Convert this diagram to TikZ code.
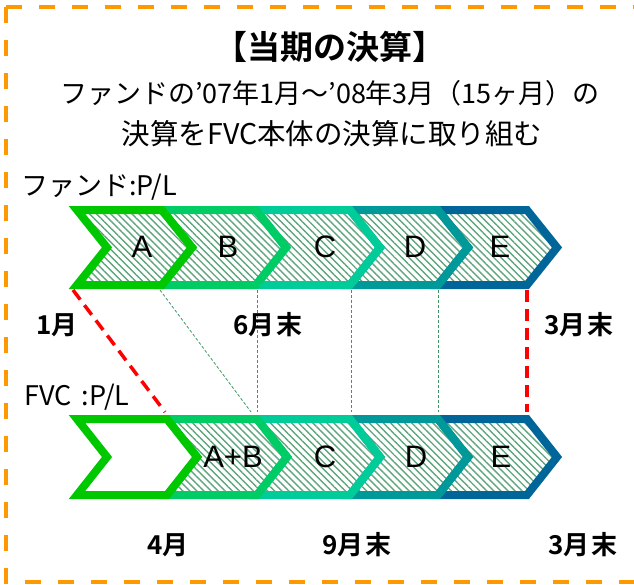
\documentclass[tikz,border=0pt]{standalone}
\usepackage{fontspec}
\setmainfont{Liberation Sans}
\newfontfamily\jpfont{Noto Sans CJK JP}[BoldFont={Noto Sans CJK JP Bold}]
\usepackage{tikz}
\usetikzlibrary{patterns.meta,calc}

\definecolor{frameor}{RGB}{255,153,0}
\definecolor{chA}{RGB}{0,200,0}
\definecolor{chB}{RGB}{0,204,102}
\definecolor{chC}{RGB}{0,204,153}
\definecolor{chD}{RGB}{0,153,153}
\definecolor{chE}{RGB}{0,102,153}
\definecolor{hatchcol}{RGB}{95,165,125}
\definecolor{guidecol}{RGB}{60,150,100}

\tikzset{
  chev/.style={line width=8pt, line join=miter,
    pattern={Lines[angle=-45,distance=5pt,line width=1.4pt]}, pattern color=hatchcol},
  blankchev/.style={line width=8pt, line join=miter, fill=white},
  letter/.style={font=\fontsize{31}{31}\selectfont, inner sep=0pt},
  when/.style={font=\jpfont\bfseries\fontsize{26}{26}\selectfont, inner sep=0pt},
  rowname/.style={anchor=west, font=\jpfont\fontsize{27}{27}\selectfont, inner sep=0pt},
  redline/.style={red, line width=3.5pt, dash pattern=on 12pt off 7pt},
  guide/.style={guidecol, line width=0.8pt, dash pattern=on 3pt off 2pt}
}

\begin{document}
\begin{tikzpicture}[x=1pt,y=-1pt]
\useasboundingbox (0,0) rectangle (634,584);
%frame
\draw [frameor, line width=4pt, dash pattern=on 16pt off 17pt] (6,7) rectangle (660,582);

%heading
\node (title) [font=\jpfont\bfseries\fontsize{33}{33}\selectfont] at (330,47) {【当期の決算】};
\node (sub1) [font=\jpfont\fontsize{27}{27}\selectfont] at (330,93) {ファンドの’07年1月～’08年3月（15ヶ月）の};
\node (sub2) [font=\jpfont\fontsize{28.5}{28.5}\selectfont] at (332,134) {決算をFVC本体の決算に取り組む};

%upper row: fund P/L
\node (fundpl) [rowname] at (21,187) {ファンド:P/L};
\foreach \xa/\xb/\col in {438/527/chE, 350/438/chD, 256/350/chC, 162/256/chB, 77/162/chA}
  \draw [chev, draw=\col] (\xa,210) -- (\xb,210) -- (\xb+30,247.5) -- (\xb,285) -- (\xa,285) -- (\xa+30,247.5) -- cycle;
\node (la) [letter] at (142,247) {A};
\node (lb) [letter] at (228,247) {B};
\node (lc) [letter] at (325,247) {C};
\node (ld) [letter] at (415,247) {D};
\node (le) [letter] at (500,247) {E};

%lower row: FVC P/L
\node (fvcpl) [rowname] at (24,397) {FVC\hspace{4pt} :P/L};
\foreach \xa/\xb/\col in {438/527/chE, 350/438/chD, 257/350/chC, 167/257/chB}
  \draw [chev, draw=\col] (\xa,419) -- (\xb,419) -- (\xb+30,457) -- (\xb,495) -- (\xa,495) -- (\xa+30,457) -- cycle;
\draw [blankchev, draw=chA] (77,419) -- (167,419) -- (197,457) -- (167,495) -- (77,495) -- (107,457) -- cycle;
\node (lab) [letter] at (233,457) {A+B};
\node (lc2) [letter] at (325,457) {C};
\node (ld2) [letter] at (416,457) {D};
\node (le2) [letter] at (501,457) {E};

%period ends
\coordinate (uA) at (73,290); \coordinate (uB) at (160,290); \coordinate (uC) at (257,290);
\coordinate (uD) at (351,290); \coordinate (uE) at (438,290); \coordinate (uX) at (527,290);
\coordinate (dAB) at (165,412); \coordinate (dC) at (251,412); \coordinate (dC2) at (257,412);
\coordinate (dD) at (351,412); \coordinate (dE) at (438,412); \coordinate (dX) at (527,412);
\draw [guide] (uB) -- (dC);
\draw [guide] (uC) -- (dC2);
\draw [guide] (uD) -- (dD);
\draw [guide] (uE) -- (dE);
\draw [redline] (uA) -- (dAB);
\draw [redline] (uX) -- (dX);

%months
\node (jan) [when] at (57,325) {1月};
\node (jun) [when] at (268,325) {6月\hspace{2pt}末};
\node (mar1) [when] at (579,325) {3月\hspace{2pt}末};
\node (apr) [when] at (168,545) {4月};
\node (sep) [when] at (357,545) {9月\hspace{2pt}末};
\node (mar2) [when] at (583,545) {3月\hspace{2pt}末};
\end{tikzpicture}
\end{document}
